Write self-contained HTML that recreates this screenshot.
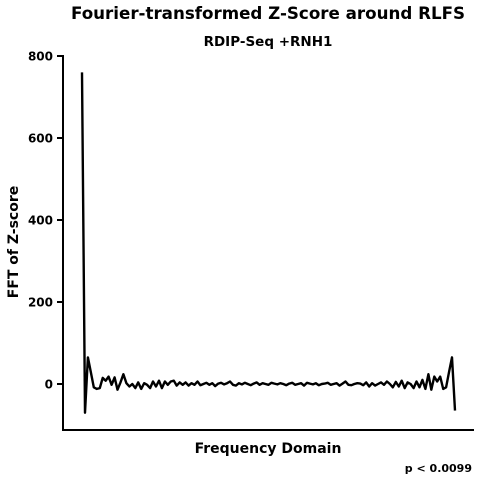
<!DOCTYPE html>
<html><head><meta charset="utf-8"><style>
html,body{margin:0;padding:0;background:#fff;}
svg text{font-family:"DejaVu Sans","Liberation Sans",sans-serif;font-weight:bold;fill:#000;}
</style></head><body>
<svg id="chart" width="480" height="480" viewBox="0 0 480 480">
<text x="268" y="19" text-anchor="middle" font-size="16.7">Fourier-transformed Z-Score around RLFS</text>
<text x="268" y="46" text-anchor="middle" font-size="13.5">RDIP-Seq +RNH1</text>
<text transform="translate(18,242) rotate(-90)" text-anchor="middle" font-size="14">FFT of Z-score</text>
<text x="268" y="453" text-anchor="middle" font-size="14">Frequency Domain</text>
<text x="472" y="472" text-anchor="end" font-size="11">p &lt; 0.0099</text>
<g id="axes"></g>
<polyline id="series" fill="none" stroke="#000" stroke-width="2.4" stroke-linejoin="round"></polyline>
</svg>
<script>
const yTicks=[0,200,400,600,800];
const fftValues=[760,-70,65,28,-8,-12,-10,15,8,18,-2,16,-14,4,24,2,-6,0,-10,4,-12,2,-2,-10,6,-6,8,-10,6,-2,6,8,-4,4,-2,4,-4,2,-2,6,
-3,0,3,-2,2,-5,1,3,-1,2,6,-2,-4,2,-1,3,0,-3,1,4,-2,2,0,-2,3,1,-1,2,0,-3,1,3,-2,0,2,-4,3,1,-1,2,-3,0,1,3,-2,
0,2,-4,1,6,-2,-3,0,2,1,-3,4,-6,2,-4,0,4,-2,6,0,-8,5,-6,8,-10,4,0,-10,6,-8,10,-12,24,-14,18,6,18,-12,-8,30,65,-65];
const ns="http://www.w3.org/2000/svg";
const x0=82,x1=455;
function xScale(i){return x0+(x1-x0)*i/(fftValues.length-1);}
function yScale(v){return 384-v*0.41;}
const axes=document.getElementById('axes');
const yAxis=document.createElementNS(ns,'line');


yAxis.setAttribute('x1',63);yAxis.setAttribute('x2',63);yAxis.setAttribute('y1',55);yAxis.setAttribute('y2',431);
yAxis.setAttribute('stroke','#000');yAxis.setAttribute('stroke-width','2');
axes.appendChild(yAxis);
const xAxis=document.createElementNS(ns,'line');


xAxis.setAttribute('x1',62);xAxis.setAttribute('x2',474);xAxis.setAttribute('y1',430);xAxis.setAttribute('y2',430);
xAxis.setAttribute('stroke','#000');xAxis.setAttribute('stroke-width','2');
axes.appendChild(xAxis);
yTicks.forEach(t=>{
  const y=yScale(t);
  const tk=document.createElementNS(ns,'line');
  
  
  tk.setAttribute('x1',57);tk.setAttribute('x2',63);tk.setAttribute('y1',y);tk.setAttribute('y2',y);
  tk.setAttribute('stroke','#000');tk.setAttribute('stroke-width','2');
  axes.appendChild(tk);
  const lb=document.createElementNS(ns,'text');
  
  
  lb.setAttribute('x',53);lb.setAttribute('y',y+4.5);lb.setAttribute('text-anchor','end');lb.setAttribute('font-size','12');
  lb.textContent=t;
  axes.appendChild(lb);
});
document.getElementById('series').setAttribute('points',fftValues.map((v,i)=>xScale(i).toFixed(1)+','+yScale(v).toFixed(1)).join(' '));
</script>
</body></html>
